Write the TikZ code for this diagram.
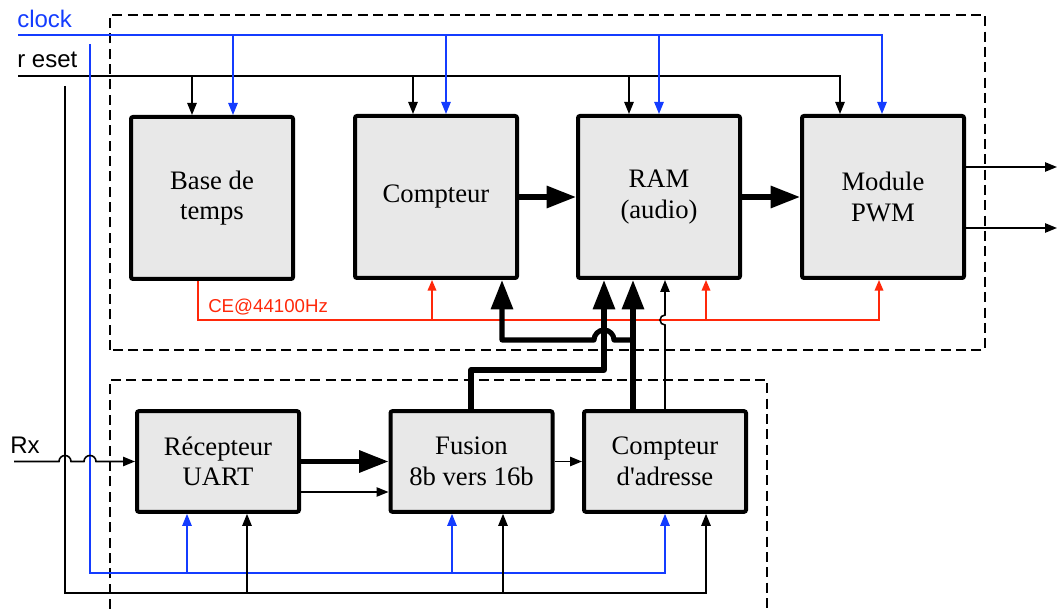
\documentclass[tikz,border=0pt]{standalone}
\usepackage{fontspec}
\setmainfont{Liberation Serif}
\newfontfamily\labfont{Liberation Sans}
\usetikzlibrary{arrows.meta}
\definecolor{clkblue}{RGB}{20,60,255}
\definecolor{cered}{RGB}{255,40,10}
\definecolor{boxgray}{RGB}{232,232,232}
\begin{document}
\begin{tikzpicture}[x=0.75pt,y=-0.75pt,
  blk/.style={draw, line width=3pt, fill=boxgray, minimum width=121.5pt, align=center, font=\fontsize{20}{23}\selectfont, rounded corners=1.5pt, inner sep=0pt},
  tallblk/.style={blk, minimum height=121.5pt},
  lowblk/.style={blk, minimum height=75.5pt},
  sig/.style={line width=1.2pt, -{Triangle[length=9pt,width=7pt]}},
  clksig/.style={sig, draw=clkblue},
  cesig/.style={line width=1.1pt, draw=cered, -{Triangle[length=8pt,width=6.5pt]}},
  bus/.style={line width=3.8pt, line join=round, -{Triangle[length=22pt,width=16pt]}},
  zone/.style={line width=1.3pt, dash pattern=on 7.5pt off 4pt},
  lab/.style={font=\labfont\fontsize{18}{20}\selectfont, anchor=base west, inner sep=0pt},
]
\useasboundingbox (0,0) rectangle (1057,609);

% dashed zones
\draw[zone] (110,350) -- (110,15) -- (985,15) -- (985,350) -- cycle;
\draw[zone] (110,609) -- (110,380) -- (767,380) -- (767,609);

% blocks
\node[tallblk] (base) at (212,198) {Base de\\temps};
\node[tallblk] (cpt) at (436,197) {Compteur};
\node[tallblk] (ram) at (659,197) {RAM\\(audio)};
\node[tallblk] (pwm) at (883,197) {Module\\PWM};
\node[lowblk] (uart) at (218,461.5) {Récepteur\\UART};
\node[lowblk] (fus) at (471.5,461.5) {Fusion\\8b vers 16b};
\node[lowblk] (cadr) at (665,461.5) {Compteur\\d\textquotesingle adresse};

% labels
\node[lab, text=clkblue] (clocklab) at (17,28) {clock};
\node[lab] (resetlab) at (17,68) {r eset};
\node[lab] (rxlab) at (10,454) {Rx};
\node[lab, text=cered, font=\labfont\fontsize{14}{16}\selectfont] (celab) at (208,313) {CE@44100Hz};

% free ends
\coordinate (clkin) at (18,35);
\coordinate (rstin) at (18,76);
\coordinate (rxin) at (14,461.5);
\coordinate (clkdown) at (90,44);
\coordinate (rstdown) at (65,86);
\coordinate (out1) at (1057,167);
\coordinate (out2) at (1057,228);

% reset (top)
\draw[sig] (rstin) -- (840,76) -- (pwm.north -| 840,0);
\foreach \xx/\nn in {192/base,413/cpt,629/ram}
  \draw[sig] (\xx,76) -- (\nn.north -| \xx,0);
% clock (top)
\draw[clksig] (clkin) -- (882,35) -- (pwm.north -| 882,0);
\foreach \xx/\nn in {233/base,446/cpt,659/ram}
  \draw[clksig] (\xx,35) -- (\nn.north -| \xx,0);

% clock (bottom)
\draw[clksig] (clkdown) -- (90,573) -- (665,573) -- (cadr.south -| 665,0);
\draw[clksig] (187,573) -- (uart.south -| 187,0);
\draw[clksig] (452,573) -- (fus.south -| 452,0);
% reset (bottom)
\draw[sig] (rstdown) -- (65,593) -- (706,593) -- (cadr.south -| 706,0);
\draw[sig] (247,593) -- (uart.south -| 247,0);
\draw[sig] (503,593) -- (fus.south -| 503,0);

% Rx with hops
\draw[sig] (rxin) -- (59,461.5) .. controls (59,458.2) and (61.7,455.5) .. (65,455.5) .. controls (68.3,455.5) and (71,458.2) .. (71,461.5)
  -- (84,461.5) .. controls (84,458.2) and (86.7,455.5) .. (90,455.5) .. controls (93.3,455.5) and (96,458.2) .. (96,461.5) -- (uart.west);

% CE enable
\draw[cesig] (base.south -| 198,0) -- (198,320) -- (879,320) -- (pwm.south -| 879,0);
\draw[cesig] (432,320) -- (cpt.south -| 432,0);
\draw[cesig] (706,320) -- (ram.south -| 706,0);

% data buses
\draw[bus] (cpt.east) -- (ram.west);
\draw[bus] (ram.east) -- (pwm.west);
\draw[bus] (uart.east) -- (fus.west);
\draw[sig] (uart.east |- 0,492) -- (fus.west |- 0,492);
\draw[sig] (fus.east) -- (cadr.west);

\draw[bus] (fus.north -| 471,0) -- (471,370) -- (604,370) -- (ram.south -| 604,0);
\draw[bus] (cadr.north -| 633,0) -- (ram.south -| 633,0);
\draw[bus] (633,340) -- (614,340) .. controls (614,334.5) and (609.5,330) .. (604,330) .. controls (598.5,330) and (594,334.5) .. (594,340) -- (502,340) -- (cpt.south -| 502,0);
\draw[sig] (cadr.north -| 665,0) -- (665,325) .. controls (662.2,325) and (660,322.8) .. (660,320) .. controls (660,317.2) and (662.2,315) .. (665,315) -- (ram.south -| 665,0);

% outputs
\draw[sig] (pwm.east |- out1) -- (out1);
\draw[sig] (pwm.east |- out2) -- (out2);
\end{tikzpicture}
\end{document}
